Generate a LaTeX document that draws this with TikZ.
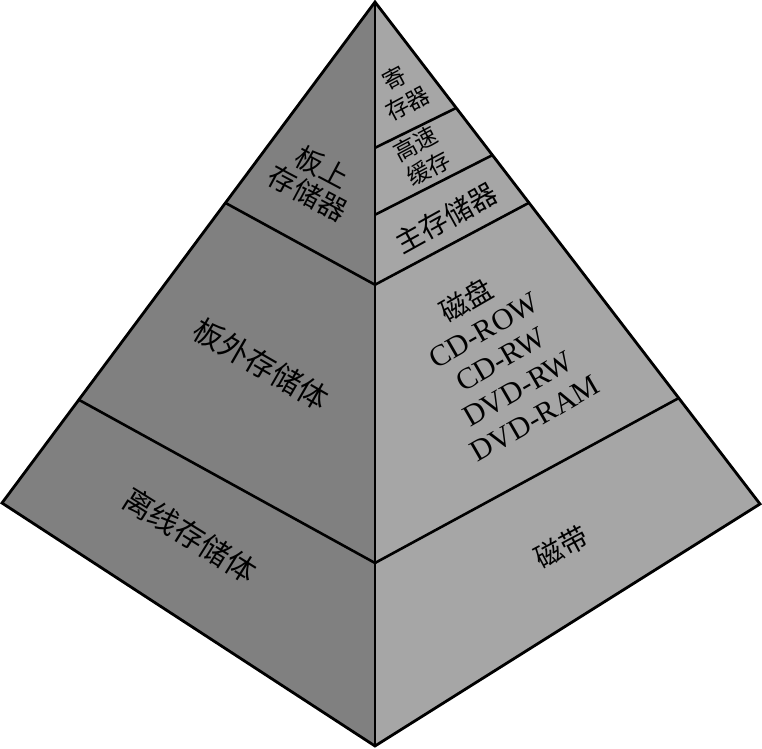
\documentclass[tikz,border=0pt]{standalone}
\usepackage{fontspec}
\setmainfont{Liberation Serif}
\newfontfamily\cjk{Noto Sans CJK SC}
\definecolor{leftface}{RGB}{128,128,128}
\definecolor{rightface}{RGB}{166,166,166}
\usetikzlibrary{
	calc,
	backgrounds
}
\tikzset{
  % face
	cstleft/.style      ={fill=leftface},
	cstright/.style     ={fill=rightface},
  % line
	cstedge/.style      ={line width=1.4pt, line join=miter},
	cstband/.style      ={line width=1.3pt},
  % label
	cstlabel/.style     ={font=\cjk\fontsize{14}{15}\selectfont, align=center, inner sep=0pt},
	cstsmall/.style     ={font=\cjk\fontsize{11.5}{14}\selectfont, align=center, inner sep=0pt},
	cstbig/.style       ={font=\cjk\fontsize{15}{17}\selectfont, align=center, inner sep=0pt},
	cstdisk/.style      ={font=\fontsize{15}{17}\selectfont, align=center, inner sep=0pt}
}

\begin{document}
\begin{tikzpicture}[x=0.5pt,y=-0.5pt]
	\useasboundingbox (0,0) rectangle (762,749);
	% corners
	\coordinate (A) at (375,2);
	\coordinate (L) at (2,503);
	\coordinate (R) at (760,504);
	\coordinate (B) at (375,746);
	% band ends
	\coordinate (l1) at ($(A)!0.401!(L)$);
	\coordinate (l2) at ($(A)!0.794!(L)$);
	\coordinate (r1) at ($(A)!0.211!(R)$);
	\coordinate (r2) at ($(A)!0.305!(R)$);
	\coordinate (r3) at ($(A)!0.400!(R)$);
	\coordinate (r4) at ($(A)!0.789!(R)$);
	\coordinate (c1) at ($(A)!0.196!(B)$);
	\coordinate (c2) at ($(A)!0.286!(B)$);
	\coordinate (c3) at ($(A)!0.380!(B)$);
	\coordinate (c4) at ($(A)!0.754!(B)$);
	% faces
	\fill[cstleft] (A)--(L)--(B)--cycle;
	\fill[cstright] (A)--(R)--(B)--cycle;
	\begin{scope}[cstband]
		\draw (l1)--(c3)--(r3);
		\draw (l2)--(c4)--(r4);
		\draw (c1)--(r1);
		\draw (c2)--(r2);
	\end{scope}
	\draw[cstedge] (A)--(L)--(B)--(R)--cycle;
	\draw[cstedge] (A)--(B);
	% labels
	\node[cstlabel,rotate=-28] (onboard) at (315,180) {板上\\存储器};
	\node[cstbig,rotate=-30] (offboard) at (261,364) {板外存储体};
	\node[cstbig,rotate=-32] (offline) at (190,535) {离线存储体};
	\node[cstsmall,rotate=28] (register) at (401,91) {寄\\存器};
	\node[cstsmall,rotate=28] (cache) at (422,156) {高速\\缓存};
	\node[cstlabel,rotate=29] (mainmem) at (446,218) {主存储器};
	\node[cstdisk,rotate=30] (disk) at (500,358) {{\cjk\fontsize{14}{17}\selectfont 磁盘}\\CD-ROW\\CD-RW\\DVD-RW\\DVD-RAM};
	\node[cstlabel,rotate=28] (tape) at (561,547) {磁带};
\end{tikzpicture}
\end{document}
